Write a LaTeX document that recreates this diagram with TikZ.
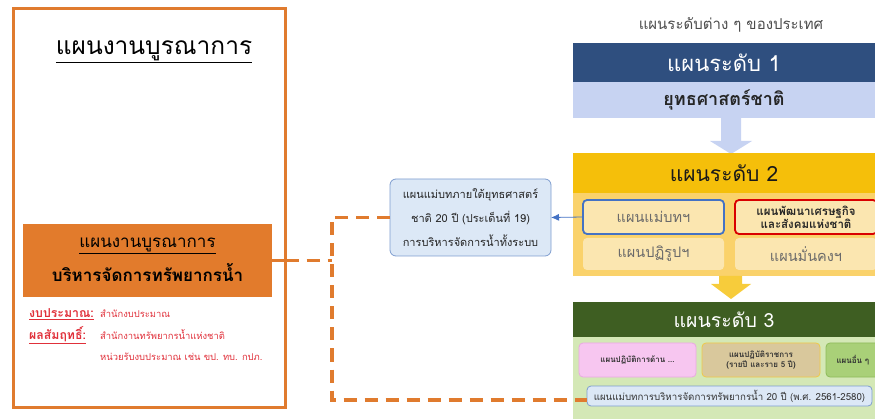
\documentclass[tikz,border=0pt]{standalone}
\usepackage{fontspec}
\setmainfont[Script=Thai]{Loma}
\usetikzlibrary{arrows.meta,calc}
\definecolor{orng}{HTML}{E07B2E}
\definecolor{orngfill}{HTML}{E27B2C}
\definecolor{redt}{HTML}{E0303A}
\definecolor{lvlone}{HTML}{2F4F7F}
\definecolor{lvlonelight}{HTML}{C7D3F2}
\definecolor{lvltwo}{HTML}{F5BF0A}
\definecolor{lvltwolight}{HTML}{FAD26B}
\definecolor{boxtwo}{HTML}{FBE6B0}
\definecolor{lvlthree}{HTML}{3E5E22}
\definecolor{lvlthreelight}{HTML}{D4E8B6}
\definecolor{callfill}{HTML}{DCE8F6}
\definecolor{calldraw}{HTML}{7E9DCF}
\definecolor{arrowblue}{HTML}{4472C4}
\definecolor{graytxt}{HTML}{6A6A6A}
\definecolor{pinkfill}{HTML}{F7C6F0}
\definecolor{pinkdraw}{HTML}{E9A9E2}
\definecolor{tanfill}{HTML}{D9C89C}
\definecolor{tandraw}{HTML}{F0C948}
\definecolor{grnfill}{HTML}{A9D078}
\definecolor{grndraw}{HTML}{8DBB5A}
\tikzset{
  blk/.style={inner sep=0pt, outer sep=0pt, anchor=north west},
  dashline/.style={draw=orng, line width=3.3pt, dash pattern=on 13pt off 8pt},
  sub2/.style={blk, rounded corners=4pt, fill=boxtwo},
  sub3/.style={blk, rounded corners=4pt, line width=0.8pt},
}
\begin{document}
\begin{tikzpicture}[x=1pt,y=-1pt]
\useasboundingbox (0,0) rectangle (875,419);
% left frame
\node[blk, draw=orng, line width=3pt, minimum width=272pt, minimum height=399pt] (frame) at (13.5,8.5) {};
\node (title) at (154,52) {\fontsize{24.5}{28}\selectfont\underline{แผนงานบูรณาการ}};
\node[blk, fill=orngfill, minimum width=249pt, minimum height=73pt] (water) at (23,224) {};
\node (waterA) at ($(water.center)+(0,-15)$) {\fontsize{17}{20}\selectfont\underline{แผนงานบูรณาการ}};
\node (waterB) at ($(water.center)+(0,12)$) {\fontsize{17}{20}\selectfont\bfseries บริหารจัดการทรัพยากรน้ำ};
\node[anchor=west, text=redt, inner sep=0pt] (budL) at (29,314) {\fontsize{12.3}{14}\selectfont\bfseries\underline{งบประมาณ:}};
\node[anchor=west, text=redt, inner sep=0pt] (budT) at (100,314) {\fontsize{9.4}{11}\selectfont สำนักงบประมาณ};
\node[anchor=west, text=redt, inner sep=0pt] (resL) at (29,335) {\fontsize{12.3}{14}\selectfont\bfseries\underline{ผลสัมฤทธิ์:}};
\node[anchor=west, text=redt, inner sep=0pt] (resT) at (100,335) {\fontsize{9.4}{11}\selectfont สำนักงานทรัพยากรน้ำแห่งชาติ};
\node[anchor=west, text=redt, inner sep=0pt] (resU) at (100,357) {\fontsize{9.4}{11}\selectfont หน่วยรับงบประมาณ เช่น ขป. ทบ. กปภ.};
\draw[orng, line width=3pt] (water.east) -- (frame.east |- water.east);
% callout
\node[blk, fill=callfill, draw=calldraw, line width=0.8pt, rounded corners=6pt, minimum width=161pt, minimum height=77pt] (call) at (390,179) {};
\node[align=center, font=\fontsize{11}{24}\selectfont, text=black!85] (callT) at (call.center) {แผนแม่บทภายใต้ยุทธศาสตร์\\ชาติ 20 ปี (ประเด็นที่ 19)\\การบริหารจัดการน้ำทั้งระบบ};
% right column
\node[text=black!70, font=\fontsize{15}{18}\selectfont] (rtitle) at (731,25) {แผนระดับต่าง ๆ ของประเทศ};
\node[blk, fill=lvlone, minimum width=302pt, minimum height=39pt] (l1) at (573,43) {};
\node[text=white, font=\fontsize{22}{26}\selectfont] (l1t) at (l1.center) {แผนระดับ 1};
\node[blk, fill=lvlonelight, minimum width=302pt, minimum height=36pt] (l1b) at (573,82) {};
\node[text=black!85, font=\fontsize{18}{22}\selectfont\bfseries] (l1bt) at (l1b.center) {ยุทธศาสตร์ชาติ};
\fill[lvlonelight] (721,118) -- (741,118) -- (741,141) -- (752,141) -- (731,154) -- (710,141) -- (721,141) -- cycle;
% level 2
\node[blk, fill=lvltwo, minimum width=302pt, minimum height=40pt] (l2) at (573,153) {};
\node[text=black!90, font=\fontsize{21}{25}\selectfont] (l2t) at (l2.center) {แผนระดับ 2};
\node[blk, fill=lvltwolight, minimum width=302pt, minimum height=83pt] (l2b) at (573,193) {};
\node[sub2, draw=arrowblue, line width=1.8pt, minimum width=141pt, minimum height=34pt] (mb) at (583,200) {};
\node[text=graytxt, font=\fontsize{14.5}{17}\selectfont] (mbt) at (mb.center) {แผนแม่บทฯ};
\node[sub2, draw=red!85!black, line width=1.8pt, minimum width=142pt, minimum height=34pt] (econ) at (735,200) {};
\node[align=center, text=black!85, font=\fontsize{11.5}{13}\selectfont\bfseries] (econt) at (econ.center) {แผนพัฒนาเศรษฐกิจ\\และสังคมแห่งชาติ};
\node[sub2, minimum width=141pt, minimum height=32pt] (ref) at (583,238) {};
\node[text=graytxt, font=\fontsize{14.5}{17}\selectfont] (reft) at (ref.center) {แผนปฏิรูปฯ};
\node[sub2, minimum width=142pt, minimum height=32pt] (sec) at (735,238) {};
\node[text=graytxt, font=\fontsize{14.5}{17}\selectfont] (sect) at (sec.center) {แผนมั่นคงฯ};
\fill[lvltwo!80] (719,276) -- (742,276) -- (742,284) -- (751,284) -- (731,299) -- (711,284) -- (719,284) -- cycle;
% level 3
\node[blk, fill=lvlthree, minimum width=302pt, minimum height=35pt] (l3) at (573,302) {};
\node[text=white, font=\fontsize{19.5}{23}\selectfont] (l3t) at (l3.center) {แผนระดับ 3};
\node[blk, fill=lvlthreelight, minimum width=302pt, minimum height=82pt] (l3b) at (573,337) {};
\node[sub3, fill=pinkfill, draw=pinkdraw, minimum width=117pt, minimum height=34pt] (pk) at (579,343) {};
\node[font=\fontsize{8}{10}\selectfont\bfseries, text=black!80] (pkt) at (pk.center) {แผนปฏิบัติการด้าน ...};
\node[sub3, fill=tanfill, draw=tandraw, minimum width=118pt, minimum height=34pt] (tan) at (702,343) {};
\node[align=center, font=\fontsize{8}{10}\selectfont\bfseries, text=black!80] (tant) at (tan.center) {แผนปฏิบัติราชการ\\(รายปี และราย 5 ปี)};
\node[sub3, fill=grnfill, draw=grndraw, minimum width=55pt, minimum height=34pt] (oth) at (826,343) {};
\node[font=\fontsize{8}{10}\selectfont\bfseries, text=black!80, anchor=west] (otht) at (833,360) {แผนอื่น ๆ};
\node[blk, fill=callfill, draw=calldraw, line width=0.8pt, rounded corners=4pt, minimum width=285pt, minimum height=20pt] (p20) at (587,386) {};
\node[text=black!80, font=\fontsize{9.7}{11}\selectfont] (p20t) at (p20.center) {แผนแม่บทการบริหารจัดการทรัพยากรน้ำ 20 ปี (พ.ศ. 2561-2580)};
% connectors
\coordinate (jm) at (332,0 |- water.east);
\coordinate (jt) at (332,0 |- call.west);
\coordinate (jb) at (332,400);
\draw[dashline] (frame.east |- water.east) -- (jm);
\draw[dashline] (call.west) -- (jt) -- (jb) -- (p20.west |- jb);
\draw[arrowblue, line width=0.8pt, -{Latex[length=8pt,width=7pt]}] (mb.west) -- (call.east);
\end{tikzpicture}
\end{document}
